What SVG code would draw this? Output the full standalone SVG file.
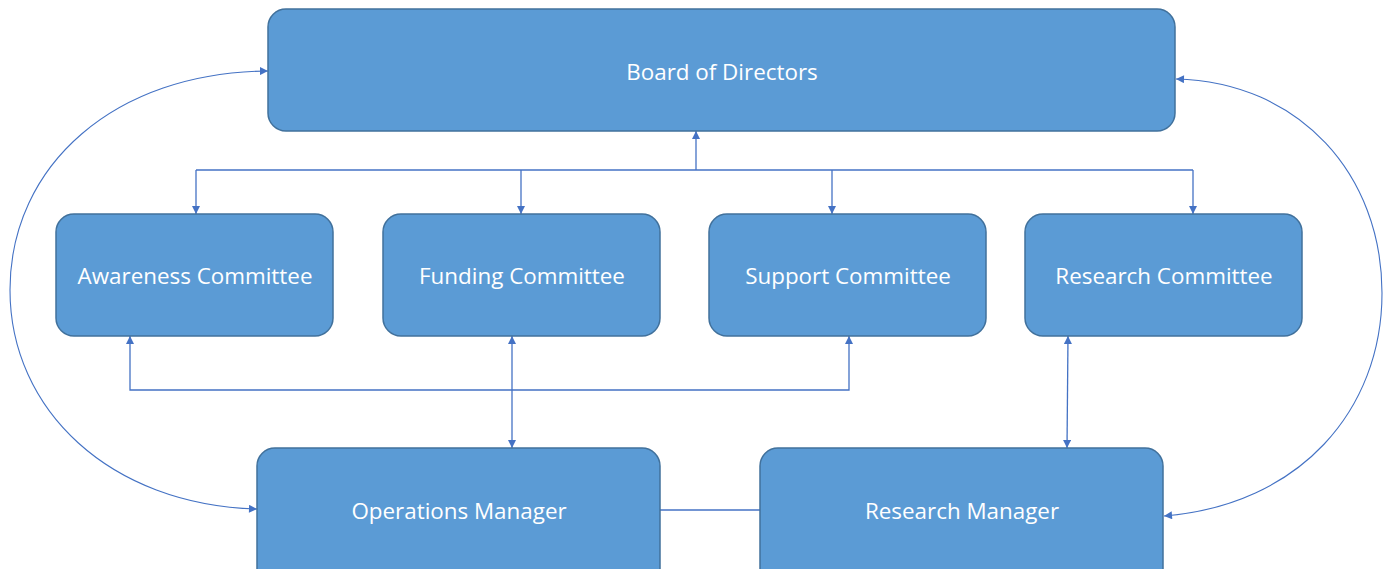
<svg xmlns="http://www.w3.org/2000/svg" width="1389" height="569" viewBox="0 0 1389 569">
  <style>
    .box { fill: #5B9BD5; stroke: #41719C; stroke-width: 1.5; }
    .lbl { fill: #FFFFFF; font-family: "Open Sans", "Liberation Sans", sans-serif; font-size: 22.4px; text-anchor: middle; }
    .wire { fill: none; stroke: #4472C4; stroke-width: 1.3; }
    .curve { fill: none; stroke: #4472C4; stroke-width: 1.1; }
  </style>
  <defs>
    <marker id="tip" viewBox="0 0 10 10" refX="10" refY="5" markerUnits="userSpaceOnUse" markerWidth="10" markerHeight="8" orient="auto-start-reverse">
      <path d="M0,0 L10,5 L0,10 z" fill="#4472C4"/>
    </marker>
  </defs>
  <rect width="1389" height="569" fill="#FFFFFF"/>

  <g id="connectors">
    <!-- committees up to the board -->
    <line class="wire" x1="696" y1="170" x2="696" y2="131" marker-end="url(#tip)"/>
    <line class="wire" x1="196" y1="170" x2="1193" y2="170"/>
    <line class="wire" x1="196" y1="170" x2="196" y2="214" marker-end="url(#tip)"/>
    <line class="wire" x1="521" y1="170" x2="521" y2="214" marker-end="url(#tip)"/>
    <line class="wire" x1="832" y1="170" x2="832" y2="214" marker-end="url(#tip)"/>
    <line class="wire" x1="1193" y1="170" x2="1193" y2="214" marker-end="url(#tip)"/>
    <!-- awareness / support link -->
    <polyline class="wire" points="130,336 130,390 849,390 849,336" marker-start="url(#tip)" marker-end="url(#tip)"/>
    <!-- committees to managers -->
    <line class="wire" x1="512" y1="336" x2="512" y2="448" marker-start="url(#tip)" marker-end="url(#tip)"/>
    <line class="wire" x1="1068" y1="336" x2="1067" y2="448" marker-start="url(#tip)" marker-end="url(#tip)"/>
    <!-- managers link -->
    <line class="wire" x1="660" y1="510" x2="760" y2="510"/>
    <!-- outer loops to the board -->
    <path class="curve" d="M 257,509 C 110,505 10,410 10,290 C 10,165 115,72 268,71" marker-start="url(#tip)" marker-end="url(#tip)"/>
    <path class="curve" d="M 1164,516 C 1300,505 1382,410 1382,293 C 1382,175 1300,82 1176,79" marker-start="url(#tip)" marker-end="url(#tip)"/>
  </g>

  <g id="board">
    <rect class="box" x="268" y="9" width="907" height="122" rx="18"/>
    <text class="lbl" x="722" y="80">Board of Directors</text>
  </g>
  <g id="awareness">
    <rect class="box" x="56" y="214" width="277" height="122" rx="18"/>
    <text class="lbl" x="195" y="284">Awareness Committee</text>
  </g>
  <g id="funding">
    <rect class="box" x="383" y="214" width="277" height="122" rx="18"/>
    <text class="lbl" x="522" y="284">Funding Committee</text>
  </g>
  <g id="support">
    <rect class="box" x="709" y="214" width="277" height="122" rx="18"/>
    <text class="lbl" x="848" y="284">Support Committee</text>
  </g>
  <g id="research-committee">
    <rect class="box" x="1025" y="214" width="277" height="122" rx="18"/>
    <text class="lbl" x="1164" y="284">Research Committee</text>
  </g>
  <g id="operations-manager">
    <rect class="box" x="257" y="448" width="403" height="140" rx="18"/>
    <text class="lbl" x="459" y="519">Operations Manager</text>
  </g>
  <g id="research-manager">
    <rect class="box" x="760" y="448" width="403" height="140" rx="18"/>
    <text class="lbl" x="962" y="519">Research Manager</text>
  </g>
</svg>
